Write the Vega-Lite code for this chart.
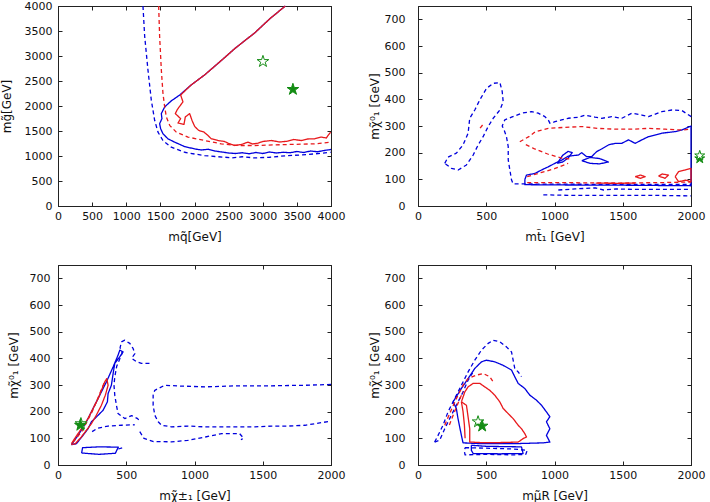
{
  "$schema": "https://vega.github.io/schema/vega-lite/v6.json",
  "padding": {"left": -1, "top": -1, "right": 0, "bottom": 0},
  "background": "white",
  "columns": 2,
  "bounds": "flush",
  "spacing": {"row": 59, "column": 87},
  "config": {
    "view": {"stroke": "#222222", "strokeWidth": 1},
    "axis": {
      "grid": false, "labelFont": "DejaVu Sans", "labelFontSize": 11, "labelColor": "#111111",
      "titleFont": "DejaVu Sans", "titleFontSize": 12, "titleFontWeight": "normal", "titleColor": "#111111",
      "tickSize": -4, "tickColor": "#222222", "domainColor": "#222222", "labelFlush": false, "labelOverlap": false,
      "format": "d", "titlePadding": 0
    },
    "axisX": {"labelPadding": 8, "minExtent": 25, "maxExtent": 25}
  },
  "datasets": {
    "p1": [
      {"k":"b95","f":"B","c":"95","x":1245,"y":4000},{"k":"b95","f":"B","c":"95","x":1270,"y":3394},{"k":"b95","f":"B","c":"95","x":1318,"y":2722},{"k":"b95","f":"B","c":"95","x":1367,"y":2117},{"k":"b95","f":"B","c":"95","x":1416,"y":1714},{"k":"b95","f":"B","c":"95","x":1465,"y":1478},{"k":"b95","f":"B","c":"95","x":1538,"y":1310},{"k":"b95","f":"B","c":"95","x":1660,"y":1176},{"k":"b95","f":"B","c":"95","x":1855,"y":1075},{"k":"b95","f":"B","c":"95","x":2000,"y":1040},{"k":"b95","f":"B","c":"95","x":2148,"y":1008},{"k":"b95","f":"B","c":"95","x":2300,"y":990},{"k":"b95","f":"B","c":"95","x":2450,"y":975},{"k":"b95","f":"B","c":"95","x":2539,"y":961},{"k":"b95","f":"B","c":"95","x":2700,"y":985},{"k":"b95","f":"B","c":"95","x":2881,"y":961},{"k":"b95","f":"B","c":"95","x":3100,"y":975},{"k":"b95","f":"B","c":"95","x":3369,"y":1008},{"k":"b95","f":"B","c":"95","x":3550,"y":1020},{"k":"b95","f":"B","c":"95","x":3760,"y":1042},{"k":"b95","f":"B","c":"95","x":3994,"y":1075},
      {"k":"b68","f":"B","c":"68","x":3330,"y":4000},{"k":"b68","f":"B","c":"68","x":3100,"y":3740},{"k":"b68","f":"B","c":"68","x":2881,"y":3461},{"k":"b68","f":"B","c":"68","x":2600,"y":3160},{"k":"b68","f":"B","c":"68","x":2393,"y":2910},{"k":"b68","f":"B","c":"68","x":2148,"y":2621},{"k":"b68","f":"B","c":"68","x":1950,"y":2420},{"k":"b68","f":"B","c":"68","x":1782,"y":2218},{"k":"b68","f":"B","c":"68","x":1660,"y":2103},{"k":"b68","f":"B","c":"68","x":1563,"y":1982},{"k":"b68","f":"B","c":"68","x":1514,"y":1848},{"k":"b68","f":"B","c":"68","x":1523,"y":1747},{"k":"b68","f":"B","c":"68","x":1489,"y":1646},{"k":"b68","f":"B","c":"68","x":1504,"y":1546},{"k":"b68","f":"B","c":"68","x":1538,"y":1445},{"k":"b68","f":"B","c":"68","x":1611,"y":1344},{"k":"b68","f":"B","c":"68","x":1709,"y":1277},{"k":"b68","f":"B","c":"68","x":1855,"y":1189},{"k":"b68","f":"B","c":"68","x":2002,"y":1142},{"k":"b68","f":"B","c":"68","x":2100,"y":1120},{"k":"b68","f":"B","c":"68","x":2200,"y":1135},{"k":"b68","f":"B","c":"68","x":2300,"y":1100},{"k":"b68","f":"B","c":"68","x":2400,"y":1080},{"k":"b68","f":"B","c":"68","x":2500,"y":1060},{"k":"b68","f":"B","c":"68","x":2600,"y":1050},{"k":"b68","f":"B","c":"68","x":2700,"y":1065},{"k":"b68","f":"B","c":"68","x":2800,"y":1045},{"k":"b68","f":"B","c":"68","x":2900,"y":1070},{"k":"b68","f":"B","c":"68","x":3000,"y":1050},{"k":"b68","f":"B","c":"68","x":3100,"y":1080},{"k":"b68","f":"B","c":"68","x":3200,"y":1060},{"k":"b68","f":"B","c":"68","x":3300,"y":1075},{"k":"b68","f":"B","c":"68","x":3400,"y":1065},{"k":"b68","f":"B","c":"68","x":3500,"y":1090},{"k":"b68","f":"B","c":"68","x":3600,"y":1070},{"k":"b68","f":"B","c":"68","x":3700,"y":1100},{"k":"b68","f":"B","c":"68","x":3800,"y":1085},{"k":"b68","f":"B","c":"68","x":3900,"y":1110},{"k":"b68","f":"B","c":"68","x":4000,"y":1130},
      {"k":"r95","f":"A","c":"95","x":1475,"y":4000},{"k":"r95","f":"A","c":"95","x":1489,"y":3394},{"k":"r95","f":"A","c":"95","x":1514,"y":2722},{"k":"r95","f":"A","c":"95","x":1538,"y":2251},{"k":"r95","f":"A","c":"95","x":1563,"y":1982},{"k":"r95","f":"A","c":"95","x":1587,"y":1781},{"k":"r95","f":"A","c":"95","x":1636,"y":1613},{"k":"r95","f":"A","c":"95","x":1733,"y":1478},{"k":"r95","f":"A","c":"95","x":1904,"y":1378},{"k":"r95","f":"A","c":"95","x":2148,"y":1310},{"k":"r95","f":"A","c":"95","x":2393,"y":1243},{"k":"r95","f":"A","c":"95","x":2637,"y":1210},{"k":"r95","f":"A","c":"95","x":2881,"y":1210},{"k":"r95","f":"A","c":"95","x":3369,"y":1230},{"k":"r95","f":"A","c":"95","x":3760,"y":1243},{"k":"r95","f":"A","c":"95","x":3994,"y":1277},
      {"k":"r68","f":"A","c":"68","x":3330,"y":4000},{"k":"r68","f":"A","c":"68","x":3100,"y":3740},{"k":"r68","f":"A","c":"68","x":2881,"y":3461},{"k":"r68","f":"A","c":"68","x":2600,"y":3160},{"k":"r68","f":"A","c":"68","x":2393,"y":2910},{"k":"r68","f":"A","c":"68","x":2148,"y":2621},{"k":"r68","f":"A","c":"68","x":1950,"y":2420},{"k":"r68","f":"A","c":"68","x":1797,"y":2220},{"k":"r68","f":"A","c":"68","x":1831,"y":2083},{"k":"r68","f":"A","c":"68","x":1748,"y":1929},{"k":"r68","f":"A","c":"68","x":1719,"y":1848},{"k":"r68","f":"A","c":"68","x":1797,"y":1747},{"k":"r68","f":"A","c":"68","x":1758,"y":1660},{"k":"r68","f":"A","c":"68","x":1846,"y":1633},{"k":"r68","f":"A","c":"68","x":1865,"y":1781},{"k":"r68","f":"A","c":"68","x":1929,"y":1848},{"k":"r68","f":"A","c":"68","x":1963,"y":1714},{"k":"r68","f":"A","c":"68","x":2002,"y":1593},{"k":"r68","f":"A","c":"68","x":2061,"y":1512},{"k":"r68","f":"A","c":"68","x":2139,"y":1478},{"k":"r68","f":"A","c":"68","x":2197,"y":1411},{"k":"r68","f":"A","c":"68","x":2246,"y":1344},{"k":"r68","f":"A","c":"68","x":2344,"y":1310},{"k":"r68","f":"A","c":"68","x":2440,"y":1290},{"k":"r68","f":"A","c":"68","x":2490,"y":1257},{"k":"r68","f":"A","c":"68","x":2588,"y":1210},{"k":"r68","f":"A","c":"68","x":2686,"y":1230},{"k":"r68","f":"A","c":"68","x":2783,"y":1277},{"k":"r68","f":"A","c":"68","x":2850,"y":1240},{"k":"r68","f":"A","c":"68","x":2930,"y":1257},{"k":"r68","f":"A","c":"68","x":3000,"y":1290},{"k":"r68","f":"A","c":"68","x":3125,"y":1310},{"k":"r68","f":"A","c":"68","x":3250,"y":1280},{"k":"r68","f":"A","c":"68","x":3369,"y":1297},{"k":"r68","f":"A","c":"68","x":3450,"y":1330},{"k":"r68","f":"A","c":"68","x":3565,"y":1310},{"k":"r68","f":"A","c":"68","x":3660,"y":1340},{"k":"r68","f":"A","c":"68","x":3760,"y":1344},{"k":"r68","f":"A","c":"68","x":3858,"y":1378},{"k":"r68","f":"A","c":"68","x":3930,"y":1360},{"k":"r68","f":"A","c":"68","x":3994,"y":1478}
    ],
    "s1": [{"t":"best","x":3442,"y":2332},{"t":"ref","x":3003,"y":2890}],
    "p2": [
      {"k":"b95a","f":"B","c":"95","x":196,"y":160},{"k":"b95a","f":"B","c":"95","x":220,"y":183},{"k":"b95a","f":"B","c":"95","x":281,"y":198},{"k":"b95a","f":"B","c":"95","x":330,"y":229},{"k":"b95a","f":"B","c":"95","x":367,"y":273},{"k":"b95a","f":"B","c":"95","x":379,"y":329},{"k":"b95a","f":"B","c":"95","x":416,"y":360},{"k":"b95a","f":"B","c":"95","x":453,"y":398},{"k":"b95a","f":"B","c":"95","x":502,"y":441},{"k":"b95a","f":"B","c":"95","x":551,"y":460},{"k":"b95a","f":"B","c":"95","x":600,"y":463},{"k":"b95a","f":"B","c":"95","x":617,"y":429},{"k":"b95a","f":"B","c":"95","x":624,"y":391},{"k":"b95a","f":"B","c":"95","x":600,"y":360},{"k":"b95a","f":"B","c":"95","x":551,"y":329},{"k":"b95a","f":"B","c":"95","x":514,"y":298},{"k":"b95a","f":"B","c":"95","x":477,"y":260},{"k":"b95a","f":"B","c":"95","x":441,"y":229},{"k":"b95a","f":"B","c":"95","x":404,"y":191},{"k":"b95a","f":"B","c":"95","x":355,"y":154},{"k":"b95a","f":"B","c":"95","x":294,"y":135},{"k":"b95a","f":"B","c":"95","x":245,"y":141},{"k":"b95a","f":"B","c":"95","x":196,"y":160},
      {"k":"b95b","f":"B","c":"95","x":2002,"y":335},{"k":"b95b","f":"B","c":"95","x":1933,"y":358},{"k":"b95b","f":"B","c":"95","x":1860,"y":360},{"k":"b95b","f":"B","c":"95","x":1786,"y":354},{"k":"b95b","f":"B","c":"95","x":1688,"y":335},{"k":"b95b","f":"B","c":"95","x":1640,"y":341},{"k":"b95b","f":"B","c":"95","x":1566,"y":348},{"k":"b95b","f":"B","c":"95","x":1493,"y":329},{"k":"b95b","f":"B","c":"95","x":1419,"y":335},{"k":"b95b","f":"B","c":"95","x":1346,"y":329},{"k":"b95b","f":"B","c":"95","x":1297,"y":333},{"k":"b95b","f":"B","c":"95","x":1224,"y":341},{"k":"b95b","f":"B","c":"95","x":1175,"y":333},{"k":"b95b","f":"B","c":"95","x":1101,"y":329},{"k":"b95b","f":"B","c":"95","x":1052,"y":323},{"k":"b95b","f":"B","c":"95","x":1003,"y":316},{"k":"b95b","f":"B","c":"95","x":967,"y":310},{"k":"b95b","f":"B","c":"95","x":954,"y":323},{"k":"b95b","f":"B","c":"95","x":930,"y":335},{"k":"b95b","f":"B","c":"95","x":881,"y":348},{"k":"b95b","f":"B","c":"95","x":832,"y":354},{"k":"b95b","f":"B","c":"95","x":759,"y":348},{"k":"b95b","f":"B","c":"95","x":685,"y":333},{"k":"b95b","f":"B","c":"95","x":636,"y":323},{"k":"b95b","f":"B","c":"95","x":617,"y":300},{"k":"b95b","f":"B","c":"95","x":631,"y":285},{"k":"b95b","f":"B","c":"95","x":648,"y":260},{"k":"b95b","f":"B","c":"95","x":661,"y":223},{"k":"b95b","f":"B","c":"95","x":661,"y":173},{"k":"b95b","f":"B","c":"95","x":673,"y":135},{"k":"b95b","f":"B","c":"95","x":685,"y":98},{"k":"b95b","f":"B","c":"95","x":697,"y":83},{"k":"b95b","f":"B","c":"95","x":954,"y":82},{"k":"b95b","f":"B","c":"95","x":1444,"y":81},{"k":"b95b","f":"B","c":"95","x":2002,"y":81},
      {"k":"b95c","f":"B","c":"95","x":918,"y":42},{"k":"b95c","f":"B","c":"95","x":1100,"y":40},{"k":"b95c","f":"B","c":"95","x":1400,"y":40},{"k":"b95c","f":"B","c":"95","x":1700,"y":40},{"k":"b95c","f":"B","c":"95","x":2000,"y":38},
      {"k":"b95d","f":"B","c":"95","x":1028,"y":60},{"k":"b95d","f":"B","c":"95","x":1150,"y":64},{"k":"b95d","f":"B","c":"95","x":1300,"y":68},{"k":"b95d","f":"B","c":"95","x":1360,"y":60},{"k":"b95d","f":"B","c":"95","x":1450,"y":64},{"k":"b95d","f":"B","c":"95","x":1600,"y":62},{"k":"b95d","f":"B","c":"95","x":1800,"y":62},{"k":"b95d","f":"B","c":"95","x":2000,"y":62},
      {"k":"b68a","f":"B","c":"68","x":783,"y":100},{"k":"b68a","f":"B","c":"68","x":795,"y":116},{"k":"b68a","f":"B","c":"68","x":856,"y":122},{"k":"b68a","f":"B","c":"68","x":905,"y":135},{"k":"b68a","f":"B","c":"68","x":954,"y":147},{"k":"b68a","f":"B","c":"68","x":1003,"y":160},{"k":"b68a","f":"B","c":"68","x":1052,"y":172},{"k":"b68a","f":"B","c":"68","x":1101,"y":187},{"k":"b68a","f":"B","c":"68","x":1175,"y":191},{"k":"b68a","f":"B","c":"68","x":1199,"y":200},{"k":"b68a","f":"B","c":"68","x":1235,"y":185},{"k":"b68a","f":"B","c":"68","x":1272,"y":185},{"k":"b68a","f":"B","c":"68","x":1309,"y":204},{"k":"b68a","f":"B","c":"68","x":1346,"y":214},{"k":"b68a","f":"B","c":"68","x":1395,"y":229},{"k":"b68a","f":"B","c":"68","x":1444,"y":235},{"k":"b68a","f":"B","c":"68","x":1493,"y":235},{"k":"b68a","f":"B","c":"68","x":1542,"y":248},{"k":"b68a","f":"B","c":"68","x":1591,"y":235},{"k":"b68a","f":"B","c":"68","x":1640,"y":248},{"k":"b68a","f":"B","c":"68","x":1688,"y":260},{"k":"b68a","f":"B","c":"68","x":1786,"y":273},{"k":"b68a","f":"B","c":"68","x":1884,"y":279},{"k":"b68a","f":"B","c":"68","x":1933,"y":285},{"k":"b68a","f":"B","c":"68","x":2000,"y":300},{"k":"b68a","f":"B","c":"68","x":2000,"y":76},{"k":"b68a","f":"B","c":"68","x":1500,"y":78},{"k":"b68a","f":"B","c":"68","x":1000,"y":79},{"k":"b68a","f":"B","c":"68","x":783,"y":80},{"k":"b68a","f":"B","c":"68","x":783,"y":100},
      {"k":"b68b","f":"B","c":"68","x":1020,"y":160},{"k":"b68b","f":"B","c":"68","x":1060,"y":190},{"k":"b68b","f":"B","c":"68","x":1100,"y":205},{"k":"b68b","f":"B","c":"68","x":1130,"y":200},{"k":"b68b","f":"B","c":"68","x":1100,"y":180},{"k":"b68b","f":"B","c":"68","x":1060,"y":165},{"k":"b68b","f":"B","c":"68","x":1020,"y":160},
      {"k":"b68c","f":"B","c":"68","x":1200,"y":170},{"k":"b68c","f":"B","c":"68","x":1260,"y":182},{"k":"b68c","f":"B","c":"68","x":1330,"y":178},{"k":"b68c","f":"B","c":"68","x":1395,"y":165},{"k":"b68c","f":"B","c":"68","x":1330,"y":158},{"k":"b68c","f":"B","c":"68","x":1260,"y":160},{"k":"b68c","f":"B","c":"68","x":1200,"y":170},
      {"k":"r95a","f":"A","c":"95","x":746,"y":241},{"k":"r95a","f":"A","c":"95","x":812,"y":260},{"k":"r95a","f":"A","c":"95","x":861,"y":279},{"k":"r95a","f":"A","c":"95","x":954,"y":291},{"k":"r95a","f":"A","c":"95","x":1077,"y":295},{"k":"r95a","f":"A","c":"95","x":1199,"y":298},{"k":"r95a","f":"A","c":"95","x":1321,"y":291},{"k":"r95a","f":"A","c":"95","x":1444,"y":288},{"k":"r95a","f":"A","c":"95","x":1566,"y":288},{"k":"r95a","f":"A","c":"95","x":1688,"y":291},{"k":"r95a","f":"A","c":"95","x":1811,"y":288},{"k":"r95a","f":"A","c":"95","x":1933,"y":285},{"k":"r95a","f":"A","c":"95","x":2000,"y":288},
      {"k":"r95b","f":"A","c":"95","x":790,"y":230},{"k":"r95b","f":"A","c":"95","x":850,"y":215},{"k":"r95b","f":"A","c":"95","x":950,"y":195},{"k":"r95b","f":"A","c":"95","x":1050,"y":180},{"k":"r95b","f":"A","c":"95","x":1130,"y":175},
      {"k":"r95c","f":"A","c":"95","x":800,"y":110},{"k":"r95c","f":"A","c":"95","x":900,"y":125},{"k":"r95c","f":"A","c":"95","x":1000,"y":140},{"k":"r95c","f":"A","c":"95","x":1100,"y":160},
      {"k":"r95d","f":"A","c":"95","x":800,"y":88},{"k":"r95d","f":"A","c":"95","x":1000,"y":88},{"k":"r95d","f":"A","c":"95","x":1200,"y":87},{"k":"r95d","f":"A","c":"95","x":1500,"y":86},{"k":"r95d","f":"A","c":"95","x":1800,"y":88},{"k":"r95d","f":"A","c":"95","x":2000,"y":90},
      {"k":"r95e","f":"A","c":"95","x":455,"y":292},{"k":"r95e","f":"A","c":"95","x":475,"y":305},
      {"k":"r68a","f":"A","c":"68","x":1884,"y":110},{"k":"r68a","f":"A","c":"68","x":1909,"y":129},{"k":"r68a","f":"A","c":"68","x":1958,"y":135},{"k":"r68a","f":"A","c":"68","x":2000,"y":141},{"k":"r68a","f":"A","c":"68","x":2000,"y":91},{"k":"r68a","f":"A","c":"68","x":1958,"y":97},{"k":"r68a","f":"A","c":"68","x":1909,"y":91},{"k":"r68a","f":"A","c":"68","x":1884,"y":110},
      {"k":"r68b","f":"A","c":"68","x":1762,"y":112},{"k":"r68b","f":"A","c":"68","x":1790,"y":120},{"k":"r68b","f":"A","c":"68","x":1835,"y":116},{"k":"r68b","f":"A","c":"68","x":1810,"y":104},{"k":"r68b","f":"A","c":"68","x":1762,"y":112},
      {"k":"r68c","f":"A","c":"68","x":1591,"y":110},{"k":"r68c","f":"A","c":"68","x":1630,"y":116},{"k":"r68c","f":"A","c":"68","x":1664,"y":110},{"k":"r68c","f":"A","c":"68","x":1630,"y":104},{"k":"r68c","f":"A","c":"68","x":1591,"y":110},
      {"k":"r68d","f":"A","c":"68","x":1302,"y":86},{"k":"r68d","f":"A","c":"68","x":1450,"y":85},{"k":"r68d","f":"A","c":"68","x":1591,"y":86}
    ],
    "s2": [{"t":"best","x":2064,"y":178},{"t":"ref","x":2064,"y":189}],
    "p3": [
      {"k":"b68a","f":"B","c":"68","x":98,"y":76},{"k":"b68a","f":"B","c":"68","x":147,"y":111},{"k":"b68a","f":"B","c":"68","x":208,"y":162},{"k":"b68a","f":"B","c":"68","x":257,"y":212},{"k":"b68a","f":"B","c":"68","x":306,"y":262},{"k":"b68a","f":"B","c":"68","x":355,"y":312},{"k":"b68a","f":"B","c":"68","x":404,"y":368},{"k":"b68a","f":"B","c":"68","x":440,"y":412},{"k":"b68a","f":"B","c":"68","x":453,"y":431},{"k":"b68a","f":"B","c":"68","x":477,"y":424},{"k":"b68a","f":"B","c":"68","x":453,"y":406},{"k":"b68a","f":"B","c":"68","x":416,"y":381},{"k":"b68a","f":"B","c":"68","x":404,"y":343},{"k":"b68a","f":"B","c":"68","x":391,"y":299},{"k":"b68a","f":"B","c":"68","x":367,"y":268},{"k":"b68a","f":"B","c":"68","x":362,"y":237},{"k":"b68a","f":"B","c":"68","x":330,"y":205},{"k":"b68a","f":"B","c":"68","x":281,"y":180},{"k":"b68a","f":"B","c":"68","x":245,"y":162},{"k":"b68a","f":"B","c":"68","x":220,"y":136},{"k":"b68a","f":"B","c":"68","x":183,"y":111},{"k":"b68a","f":"B","c":"68","x":135,"y":80},{"k":"b68a","f":"B","c":"68","x":98,"y":76},
      {"k":"b68b","f":"B","c":"68","x":173,"y":45},{"k":"b68b","f":"B","c":"68","x":180,"y":65},{"k":"b68b","f":"B","c":"68","x":300,"y":68},{"k":"b68b","f":"B","c":"68","x":442,"y":67},{"k":"b68b","f":"B","c":"68","x":420,"y":44},{"k":"b68b","f":"B","c":"68","x":300,"y":40},{"k":"b68b","f":"B","c":"68","x":173,"y":45},
      {"k":"b95a","f":"B","c":"95","x":670,"y":381},{"k":"b95a","f":"B","c":"95","x":611,"y":381},{"k":"b95a","f":"B","c":"95","x":575,"y":387},{"k":"b95a","f":"B","c":"95","x":540,"y":400},{"k":"b95a","f":"B","c":"95","x":563,"y":418},{"k":"b95a","f":"B","c":"95","x":550,"y":437},{"k":"b95a","f":"B","c":"95","x":526,"y":456},{"k":"b95a","f":"B","c":"95","x":489,"y":468},{"k":"b95a","f":"B","c":"95","x":465,"y":462},{"k":"b95a","f":"B","c":"95","x":455,"y":440},{"k":"b95a","f":"B","c":"95","x":470,"y":420},{"k":"b95a","f":"B","c":"95","x":450,"y":395},{"k":"b95a","f":"B","c":"95","x":430,"y":370},{"k":"b95a","f":"B","c":"95","x":416,"y":330},{"k":"b95a","f":"B","c":"95","x":410,"y":300},{"k":"b95a","f":"B","c":"95","x":416,"y":262},{"k":"b95a","f":"B","c":"95","x":428,"y":224},{"k":"b95a","f":"B","c":"95","x":440,"y":193},{"k":"b95a","f":"B","c":"95","x":489,"y":174},{"k":"b95a","f":"B","c":"95","x":540,"y":185},{"k":"b95a","f":"B","c":"95","x":580,"y":175},{"k":"b95a","f":"B","c":"95","x":600,"y":165},
      {"k":"b95b","f":"B","c":"95","x":250,"y":125},{"k":"b95b","f":"B","c":"95","x":290,"y":138},{"k":"b95b","f":"B","c":"95","x":367,"y":146},{"k":"b95b","f":"B","c":"95","x":465,"y":149},{"k":"b95b","f":"B","c":"95","x":562,"y":151},
      {"k":"b95c","f":"B","c":"95","x":2000,"y":302},{"k":"b95c","f":"B","c":"95","x":1809,"y":299},{"k":"b95c","f":"B","c":"95","x":1565,"y":297},{"k":"b95c","f":"B","c":"95","x":1320,"y":297},{"k":"b95c","f":"B","c":"95","x":1076,"y":293},{"k":"b95c","f":"B","c":"95","x":900,"y":296},{"k":"b95c","f":"B","c":"95","x":782,"y":299},{"k":"b95c","f":"B","c":"95","x":709,"y":280},{"k":"b95c","f":"B","c":"95","x":697,"y":262},{"k":"b95c","f":"B","c":"95","x":697,"y":224},{"k":"b95c","f":"B","c":"95","x":709,"y":187},{"k":"b95c","f":"B","c":"95","x":734,"y":162},{"k":"b95c","f":"B","c":"95","x":758,"y":149},{"k":"b95c","f":"B","c":"95","x":831,"y":143},{"k":"b95c","f":"B","c":"95","x":954,"y":146},{"k":"b95c","f":"B","c":"95","x":1076,"y":143},{"k":"b95c","f":"B","c":"95","x":1198,"y":143},{"k":"b95c","f":"B","c":"95","x":1320,"y":143},{"k":"b95c","f":"B","c":"95","x":1443,"y":143},{"k":"b95c","f":"B","c":"95","x":1565,"y":146},{"k":"b95c","f":"B","c":"95","x":1687,"y":146},{"k":"b95c","f":"B","c":"95","x":1809,"y":149},{"k":"b95c","f":"B","c":"95","x":1932,"y":159},{"k":"b95c","f":"B","c":"95","x":2000,"y":164},
      {"k":"b95d","f":"B","c":"95","x":599,"y":125},{"k":"b95d","f":"B","c":"95","x":630,"y":100},{"k":"b95d","f":"B","c":"95","x":700,"y":88},{"k":"b95d","f":"B","c":"95","x":830,"y":87},{"k":"b95d","f":"B","c":"95","x":950,"y":92},{"k":"b95d","f":"B","c":"95","x":1080,"y":105},{"k":"b95d","f":"B","c":"95","x":1200,"y":118},{"k":"b95d","f":"B","c":"95","x":1330,"y":118},{"k":"b95d","f":"B","c":"95","x":1360,"y":100},{"k":"b95d","f":"B","c":"95","x":1340,"y":95},
      {"k":"b95e","f":"B","c":"95","x":442,"y":60},{"k":"b95e","f":"B","c":"95","x":475,"y":65},
      {"k":"r68","f":"A","c":"68","x":98,"y":80},{"k":"r68","f":"A","c":"68","x":122,"y":99},{"k":"r68","f":"A","c":"68","x":171,"y":136},{"k":"r68","f":"A","c":"68","x":220,"y":174},{"k":"r68","f":"A","c":"68","x":257,"y":212},{"k":"r68","f":"A","c":"68","x":294,"y":249},{"k":"r68","f":"A","c":"68","x":318,"y":280},{"k":"r68","f":"A","c":"68","x":343,"y":312},{"k":"r68","f":"A","c":"68","x":357,"y":324},{"k":"r68","f":"A","c":"68","x":367,"y":299},{"k":"r68","f":"A","c":"68","x":347,"y":262},{"k":"r68","f":"A","c":"68","x":318,"y":224},{"k":"r68","f":"A","c":"68","x":281,"y":187},{"k":"r68","f":"A","c":"68","x":245,"y":155},{"k":"r68","f":"A","c":"68","x":208,"y":130},{"k":"r68","f":"A","c":"68","x":171,"y":105},{"k":"r68","f":"A","c":"68","x":127,"y":80},{"k":"r68","f":"A","c":"68","x":98,"y":76},
      {"k":"r95","f":"A","c":"95","x":110,"y":85},{"k":"r95","f":"A","c":"95","x":180,"y":130},{"k":"r95","f":"A","c":"95","x":250,"y":200},{"k":"r95","f":"A","c":"95","x":300,"y":260},{"k":"r95","f":"A","c":"95","x":340,"y":310}
    ],
    "s3": [{"t":"ref","x":168,"y":155},{"t":"best","x":164,"y":149}],
    "p4": [
      {"k":"b95a","f":"B","c":"95","x":122,"y":86},{"k":"b95a","f":"B","c":"95","x":147,"y":111},{"k":"b95a","f":"B","c":"95","x":183,"y":149},{"k":"b95a","f":"B","c":"95","x":220,"y":199},{"k":"b95a","f":"B","c":"95","x":269,"y":249},{"k":"b95a","f":"B","c":"95","x":318,"y":299},{"k":"b95a","f":"B","c":"95","x":367,"y":349},{"k":"b95a","f":"B","c":"95","x":416,"y":393},{"k":"b95a","f":"B","c":"95","x":465,"y":431},{"k":"b95a","f":"B","c":"95","x":514,"y":456},{"k":"b95a","f":"B","c":"95","x":550,"y":468},{"k":"b95a","f":"B","c":"95","x":599,"y":462},{"k":"b95a","f":"B","c":"95","x":648,"y":443},{"k":"b95a","f":"B","c":"95","x":685,"y":424},{"k":"b95a","f":"B","c":"95","x":697,"y":393},{"k":"b95a","f":"B","c":"95","x":709,"y":362},{"k":"b95a","f":"B","c":"95","x":734,"y":349},{"k":"b95a","f":"B","c":"95","x":758,"y":331},
      {"k":"b95b","f":"B","c":"95","x":122,"y":86},{"k":"b95b","f":"B","c":"95","x":159,"y":93},{"k":"b95b","f":"B","c":"95","x":196,"y":136},{"k":"b95b","f":"B","c":"95","x":232,"y":174},{"k":"b95b","f":"B","c":"95","x":281,"y":224},{"k":"b95b","f":"B","c":"95","x":330,"y":274},{"k":"b95b","f":"B","c":"95","x":367,"y":318},{"k":"b95b","f":"B","c":"95","x":400,"y":345},
      {"k":"b95c","f":"B","c":"95","x":345,"y":65},{"k":"b95c","f":"B","c":"95","x":500,"y":63},{"k":"b95c","f":"B","c":"95","x":700,"y":60},{"k":"b95c","f":"B","c":"95","x":800,"y":55},{"k":"b95c","f":"B","c":"95","x":790,"y":40},{"k":"b95c","f":"B","c":"95","x":700,"y":38},{"k":"b95c","f":"B","c":"95","x":500,"y":40},{"k":"b95c","f":"B","c":"95","x":345,"y":38},{"k":"b95c","f":"B","c":"95","x":340,"y":50},{"k":"b95c","f":"B","c":"95","x":345,"y":65},
      {"k":"b68a","f":"B","c":"68","x":257,"y":237},{"k":"b68a","f":"B","c":"68","x":318,"y":287},{"k":"b68a","f":"B","c":"68","x":367,"y":324},{"k":"b68a","f":"B","c":"68","x":416,"y":362},{"k":"b68a","f":"B","c":"68","x":465,"y":387},{"k":"b68a","f":"B","c":"68","x":501,"y":393},{"k":"b68a","f":"B","c":"68","x":562,"y":387},{"k":"b68a","f":"B","c":"68","x":623,"y":374},{"k":"b68a","f":"B","c":"68","x":685,"y":356},{"k":"b68a","f":"B","c":"68","x":709,"y":331},{"k":"b68a","f":"B","c":"68","x":734,"y":306},{"k":"b68a","f":"B","c":"68","x":782,"y":287},{"k":"b68a","f":"B","c":"68","x":819,"y":262},{"k":"b68a","f":"B","c":"68","x":868,"y":243},{"k":"b68a","f":"B","c":"68","x":905,"y":224},{"k":"b68a","f":"B","c":"68","x":941,"y":199},{"k":"b68a","f":"B","c":"68","x":966,"y":181},{"k":"b68a","f":"B","c":"68","x":941,"y":162},{"k":"b68a","f":"B","c":"68","x":966,"y":136},{"k":"b68a","f":"B","c":"68","x":941,"y":111},{"k":"b68a","f":"B","c":"68","x":966,"y":86},{"k":"b68a","f":"B","c":"68","x":917,"y":83},{"k":"b68a","f":"B","c":"68","x":709,"y":80},{"k":"b68a","f":"B","c":"68","x":465,"y":80},{"k":"b68a","f":"B","c":"68","x":330,"y":83},{"k":"b68a","f":"B","c":"68","x":318,"y":111},{"k":"b68a","f":"B","c":"68","x":293,"y":174},{"k":"b68a","f":"B","c":"68","x":281,"y":212},{"k":"b68a","f":"B","c":"68","x":257,"y":237},
      {"k":"b68b","f":"B","c":"68","x":391,"y":74},{"k":"b68b","f":"B","c":"68","x":500,"y":70},{"k":"b68b","f":"B","c":"68","x":758,"y":68},{"k":"b68b","f":"B","c":"68","x":770,"y":43},{"k":"b68b","f":"B","c":"68","x":600,"y":42},{"k":"b68b","f":"B","c":"68","x":404,"y":43},{"k":"b68b","f":"B","c":"68","x":391,"y":55},{"k":"b68b","f":"B","c":"68","x":391,"y":74},
      {"k":"r95a","f":"A","c":"95","x":196,"y":149},{"k":"r95a","f":"A","c":"95","x":232,"y":193},{"k":"r95a","f":"A","c":"95","x":281,"y":249},{"k":"r95a","f":"A","c":"95","x":330,"y":299},{"k":"r95a","f":"A","c":"95","x":367,"y":324},{"k":"r95a","f":"A","c":"95","x":428,"y":337},{"k":"r95a","f":"A","c":"95","x":477,"y":343},{"k":"r95a","f":"A","c":"95","x":526,"y":331},{"k":"r95a","f":"A","c":"95","x":550,"y":312},
      {"k":"r95b","f":"A","c":"95","x":230,"y":150},{"k":"r95b","f":"A","c":"95","x":260,"y":190},{"k":"r95b","f":"A","c":"95","x":300,"y":240},{"k":"r95b","f":"A","c":"95","x":330,"y":275},
      {"k":"r68a","f":"A","c":"68","x":318,"y":237},{"k":"r68a","f":"A","c":"68","x":343,"y":274},{"k":"r68a","f":"A","c":"68","x":367,"y":293},{"k":"r68a","f":"A","c":"68","x":404,"y":306},{"k":"r68a","f":"A","c":"68","x":453,"y":306},{"k":"r68a","f":"A","c":"68","x":489,"y":293},{"k":"r68a","f":"A","c":"68","x":526,"y":280},{"k":"r68a","f":"A","c":"68","x":562,"y":262},{"k":"r68a","f":"A","c":"68","x":599,"y":237},{"k":"r68a","f":"A","c":"68","x":624,"y":212},{"k":"r68a","f":"A","c":"68","x":660,"y":193},{"k":"r68a","f":"A","c":"68","x":697,"y":174},{"k":"r68a","f":"A","c":"68","x":734,"y":149},{"k":"r68a","f":"A","c":"68","x":758,"y":136},{"k":"r68a","f":"A","c":"68","x":782,"y":118},{"k":"r68a","f":"A","c":"68","x":795,"y":105},{"k":"r68a","f":"A","c":"68","x":770,"y":99},{"k":"r68a","f":"A","c":"68","x":734,"y":86},{"k":"r68a","f":"A","c":"68","x":587,"y":84},{"k":"r68a","f":"A","c":"68","x":465,"y":84},{"k":"r68a","f":"A","c":"68","x":379,"y":86},{"k":"r68a","f":"A","c":"68","x":379,"y":136},{"k":"r68a","f":"A","c":"68","x":355,"y":224},{"k":"r68a","f":"A","c":"68","x":318,"y":237},
      {"k":"r68b","f":"A","c":"68","x":318,"y":237},{"k":"r68b","f":"A","c":"68","x":330,"y":200},{"k":"r68b","f":"A","c":"68","x":340,"y":150},{"k":"r68b","f":"A","c":"68","x":345,"y":100}
    ],
    "s4": [{"t":"ref","x":440,"y":162},{"t":"best","x":470,"y":146}]
  },
  "concat": [
    {
      "width": 273, "height": 200,
      "layer": [
        {"data": {"name": "p1"},
         "mark": {"type": "line", "strokeWidth": 1.3, "strokeJoin": "round"},
         "encoding": {
           "x": {"field": "x", "type": "quantitative", "scale": {"domain": [0, 4000], "nice": false, "zero": false}, "axis": {"values": [0,500,1000,1500,2000,2500,3000,3500,4000], "title": "mq̃[GeV]"}},
           "y": {"field": "y", "type": "quantitative", "scale": {"domain": [0, 4000], "nice": false, "zero": false}, "axis": {"values": [0,500,1000,1500,2000,2500,3000,3500,4000], "title": "mg̃[GeV]", "labelPadding": 10, "minExtent": 45, "maxExtent": 45}},
           "color": {"field": "f", "type": "nominal", "scale": {"domain": ["A", "B"], "range": ["#e8191c", "#0000dd"]}, "legend": null},
           "strokeDash": {"field": "c", "type": "nominal", "scale": {"domain": ["68", "95"], "range": [[1, 0], [4, 3]]}, "legend": null},
           "detail": {"field": "k", "type": "nominal"},
           "order": {"value": null}
         }},
        {"data": {"name": "s1"},
         "mark": {"type": "point", "shape": "M0,-1L0.2245,-0.309L0.9511,-0.309L0.3633,0.118L0.5878,0.809L0,0.382L-0.5878,0.809L-0.3633,0.118L-0.9511,-0.309L-0.2245,-0.309Z", "size": 150, "strokeWidth": 1, "opacity": 1, "filled": true},
         "encoding": {
           "x": {"field": "x", "type": "quantitative", "scale": {"domain": [0, 4000], "nice": false, "zero": false}, "axis": {"orient": "top", "labels": false, "title": null, "values": [0,500,1000,1500,2000,2500,3000,3500,4000], "minExtent": 0, "maxExtent": 0}},
           "y": {"field": "y", "type": "quantitative", "scale": {"domain": [0, 4000], "nice": false, "zero": false}, "axis": {"orient": "right", "labels": false, "title": null, "values": [0,500,1000,1500,2000,2500,3000,3500,4000], "minExtent": 0, "maxExtent": 0}},
           "fill": {"field": "t", "type": "nominal", "scale": {"domain": ["best", "ref"], "range": ["#138c13", "#ffffff"]}, "legend": null},
           "stroke": {"value": "#138c13"}
         }}
      ],
      "resolve": {"axis": {"x": "independent", "y": "independent"}}
    },
    {
      "width": 273, "height": 200,
      "layer": [
        {"data": {"name": "p2"},
         "mark": {"type": "line", "strokeWidth": 1.3, "strokeJoin": "round"},
         "encoding": {
           "x": {"field": "x", "type": "quantitative", "scale": {"domain": [0, 2000], "nice": false, "zero": false}, "axis": {"values": [0,500,1000,1500,2000], "title": "mt̃₁ [GeV]"}},
           "y": {"field": "y", "type": "quantitative", "scale": {"domain": [0, 750], "nice": false, "zero": false}, "axis": {"values": [0,100,200,300,400,500,600,700], "title": "mχ̃⁰₁ [GeV]", "labelPadding": 17, "minExtent": 37, "maxExtent": 37}},
           "color": {"field": "f", "type": "nominal", "scale": {"domain": ["A", "B"], "range": ["#e8191c", "#0000dd"]}, "legend": null},
           "strokeDash": {"field": "c", "type": "nominal", "scale": {"domain": ["68", "95"], "range": [[1, 0], [4, 3]]}, "legend": null},
           "detail": {"field": "k", "type": "nominal"},
           "order": {"value": null}
         }},
        {"data": {"name": "s2"},
         "mark": {"type": "point", "shape": "M0,-1L0.2245,-0.309L0.9511,-0.309L0.3633,0.118L0.5878,0.809L0,0.382L-0.5878,0.809L-0.3633,0.118L-0.9511,-0.309L-0.2245,-0.309Z", "size": 110, "strokeWidth": 1, "opacity": 1, "filled": true},
         "encoding": {
           "x": {"field": "x", "type": "quantitative", "scale": {"domain": [0, 2000], "nice": false, "zero": false}, "axis": {"orient": "top", "labels": false, "title": null, "values": [0,500,1000,1500,2000], "minExtent": 0, "maxExtent": 0}},
           "y": {"field": "y", "type": "quantitative", "scale": {"domain": [0, 750], "nice": false, "zero": false}, "axis": {"orient": "right", "labels": false, "title": null, "values": [0,100,200,300,400,500,600,700], "minExtent": 0, "maxExtent": 0}},
           "fill": {"field": "t", "type": "nominal", "scale": {"domain": ["best", "ref"], "range": ["#138c13", "#ffffff"]}, "legend": null},
           "stroke": {"value": "#138c13"}
         }}
      ],
      "resolve": {"axis": {"x": "independent", "y": "independent"}}
    },
    {
      "width": 273, "height": 200,
      "layer": [
        {"data": {"name": "p3"},
         "mark": {"type": "line", "strokeWidth": 1.3, "strokeJoin": "round"},
         "encoding": {
           "x": {"field": "x", "type": "quantitative", "scale": {"domain": [0, 2000], "nice": false, "zero": false}, "axis": {"values": [0,500,1000,1500,2000], "title": "mχ̃±₁ [GeV]"}},
           "y": {"field": "y", "type": "quantitative", "scale": {"domain": [0, 750], "nice": false, "zero": false}, "axis": {"values": [0,100,200,300,400,500,600,700], "title": "mχ̃⁰₁ [GeV]", "labelPadding": 12, "minExtent": 38, "maxExtent": 38}},
           "color": {"field": "f", "type": "nominal", "scale": {"domain": ["A", "B"], "range": ["#e8191c", "#0000dd"]}, "legend": null},
           "strokeDash": {"field": "c", "type": "nominal", "scale": {"domain": ["68", "95"], "range": [[1, 0], [4, 3]]}, "legend": null},
           "detail": {"field": "k", "type": "nominal"},
           "order": {"value": null}
         }},
        {"data": {"name": "s3"},
         "mark": {"type": "point", "shape": "M0,-1L0.2245,-0.309L0.9511,-0.309L0.3633,0.118L0.5878,0.809L0,0.382L-0.5878,0.809L-0.3633,0.118L-0.9511,-0.309L-0.2245,-0.309Z", "size": 150, "strokeWidth": 1, "opacity": 1, "filled": true},
         "encoding": {
           "x": {"field": "x", "type": "quantitative", "scale": {"domain": [0, 2000], "nice": false, "zero": false}, "axis": {"orient": "top", "labels": false, "title": null, "values": [0,500,1000,1500,2000], "minExtent": 0, "maxExtent": 0}},
           "y": {"field": "y", "type": "quantitative", "scale": {"domain": [0, 750], "nice": false, "zero": false}, "axis": {"orient": "right", "labels": false, "title": null, "values": [0,100,200,300,400,500,600,700], "minExtent": 0, "maxExtent": 0}},
           "fill": {"field": "t", "type": "nominal", "scale": {"domain": ["best", "ref"], "range": ["#138c13", "#ffffff"]}, "legend": null},
           "stroke": {"value": "#138c13"}
         }}
      ],
      "resolve": {"axis": {"x": "independent", "y": "independent"}}
    },
    {
      "width": 273, "height": 200,
      "layer": [
        {"data": {"name": "p4"},
         "mark": {"type": "line", "strokeWidth": 1.3, "strokeJoin": "round"},
         "encoding": {
           "x": {"field": "x", "type": "quantitative", "scale": {"domain": [0, 2000], "nice": false, "zero": false}, "axis": {"values": [0,500,1000,1500,2000], "title": "mμ̃R [GeV]"}},
           "y": {"field": "y", "type": "quantitative", "scale": {"domain": [0, 750], "nice": false, "zero": false}, "axis": {"values": [0,100,200,300,400,500,600,700], "title": "mχ̃⁰₁ [GeV]", "labelPadding": 17, "minExtent": 37, "maxExtent": 37}},
           "color": {"field": "f", "type": "nominal", "scale": {"domain": ["A", "B"], "range": ["#e8191c", "#0000dd"]}, "legend": null},
           "strokeDash": {"field": "c", "type": "nominal", "scale": {"domain": ["68", "95"], "range": [[1, 0], [4, 3]]}, "legend": null},
           "detail": {"field": "k", "type": "nominal"},
           "order": {"value": null}
         }},
        {"data": {"name": "s4"},
         "mark": {"type": "point", "shape": "M0,-1L0.2245,-0.309L0.9511,-0.309L0.3633,0.118L0.5878,0.809L0,0.382L-0.5878,0.809L-0.3633,0.118L-0.9511,-0.309L-0.2245,-0.309Z", "size": 150, "strokeWidth": 1, "opacity": 1, "filled": true},
         "encoding": {
           "x": {"field": "x", "type": "quantitative", "scale": {"domain": [0, 2000], "nice": false, "zero": false}, "axis": {"orient": "top", "labels": false, "title": null, "values": [0,500,1000,1500,2000], "minExtent": 0, "maxExtent": 0}},
           "y": {"field": "y", "type": "quantitative", "scale": {"domain": [0, 750], "nice": false, "zero": false}, "axis": {"orient": "right", "labels": false, "title": null, "values": [0,100,200,300,400,500,600,700], "minExtent": 0, "maxExtent": 0}},
           "fill": {"field": "t", "type": "nominal", "scale": {"domain": ["best", "ref"], "range": ["#138c13", "#ffffff"]}, "legend": null},
           "stroke": {"value": "#138c13"}
         }}
      ],
      "resolve": {"axis": {"x": "independent", "y": "independent"}}
    }
  ]
}
